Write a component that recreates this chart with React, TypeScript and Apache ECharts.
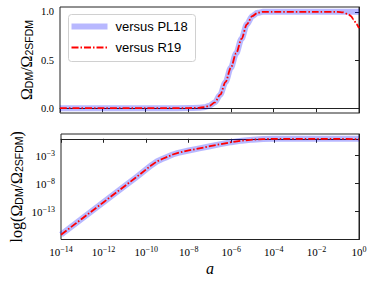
import React, { useEffect, useRef } from "react";
import * as echarts from "echarts";

// log10(a) sampling for the upper panel
const topLogA = [-14, -12, -10, -9, -8, -7.5, -7.25, -7, -6.75, -6.5, -6.25, -6, -5.75, -5.5, -5.25, -5, -4.75, -4.5, -4, -2, -1, -0.75, -0.5, -0.375, -0.25, -0.125, 0];
const topPL18 = [0, 0, 0, 0, 0.001, 0.004, 0.01, 0.025, 0.06, 0.14, 0.27, 0.42, 0.57, 0.72, 0.87, 0.955, 0.99, 1, 1, 1, 1, 1, 1, 1, 1, 1, 1];
const topR19 = [0, 0, 0, 0, 0.001, 0.004, 0.01, 0.025, 0.06, 0.14, 0.27, 0.42, 0.57, 0.72, 0.87, 0.955, 0.99, 1, 1, 1, 1, 0.995, 0.975, 0.955, 0.92, 0.875, 0.83];

// log10(a) sampling for the lower panel, values are log10(ratio)
const botLogA = [-14, -13, -12, -11, -10.5, -10, -9.75, -9.5, -9.25, -9, -8.75, -8.5, -8, -7.5, -7, -6.5, -6, -5.5, -5, -4.5, -4, -2, -1, 0];
const botPL18 = [-17.1, -14.2, -11.3, -8.4, -6.95, -5.45, -4.7, -4.05, -3.6, -3.22, -2.8, -2.5, -2.08, -1.7, -1.32, -0.95, -0.6, -0.33, -0.15, -0.05, -0.01, 0, 0, 0];
const botR19 = [-17.1, -14.2, -11.3, -8.4, -6.95, -5.45, -4.7, -4.05, -3.6, -3.22, -2.8, -2.5, -2.08, -1.7, -1.32, -0.95, -0.6, -0.33, -0.15, -0.05, -0.01, 0, 0, -0.08];

const xTicks = [-14, -12, -10, -8, -6, -4, -2, 0];
const topYTicks = [0, 0.5, 1.0];
const botYTicks = [-13, -8, -3];
const legendNames = ["versus PL18", "versus R19"];

const BLUE = "rgba(0,0,255,0.28)";
const RED = "#ff0000";
const DASH = [7, 2, 1.5, 2];
const SERIF = "'Liberation Serif', 'DejaVu Serif', serif";
const SANS = "'Liberation Sans', 'DejaVu Sans', sans-serif";

const pairs = (xs: number[], ys: number[]) => xs.map((x, i) => [x, ys[i]]);
const fmtExp = (v: number) => {
  const n = Math.round(v);
  const s = n < 0 ? "\u2212" + Math.abs(n) : String(n);
  return `{b|10}{s|${s}}`;
};

const powRich = {
  b: { fontFamily: SERIF, fontSize: 11, lineHeight: 12, verticalAlign: "bottom", color: "#000" },
  s: { fontFamily: SERIF, fontSize: 8, lineHeight: 8, verticalAlign: "top", color: "#000" },
};

export default function App() {
  const ref = useRef<HTMLDivElement>(null);
  useEffect(() => {
    if (!ref.current) return;
    const chart = echarts.init(ref.current, null, { renderer: "svg" });
    const axisLine = { show: true, lineStyle: { color: "#222", width: 1 } };
    const tick = { show: true, inside: false, length: 4, lineStyle: { color: "#222", width: 1 } };
    const nameRich = {
      o: { fontFamily: SERIF, fontSize: 16, lineHeight: 20, verticalAlign: "bottom", color: "#000" },
      s: { fontFamily: SANS, fontSize: 10.5, lineHeight: 13, verticalAlign: "bottom", color: "#000" },
    };
    chart.setOption({
      animation: false,
      grid: [
        { left: 60, width: 299, top: 7, height: 106, show: true, borderColor: "#222", borderWidth: 1, backgroundColor: "transparent" },
        { left: 60, width: 299, top: 134, height: 105.5, show: true, borderColor: "#222", borderWidth: 1, backgroundColor: "transparent" },
      ],
      xAxis: [
        {
          type: "value", gridIndex: 0, min: -14, max: 0, interval: 2,
          axisLine, axisTick: tick, axisLabel: { show: false }, splitLine: { show: false },
        },
        {
          type: "value", gridIndex: 1, min: -14, max: 0, interval: 2,
          axisLine, axisTick: tick, splitLine: { show: false },
          axisLabel: { show: true, margin: 6, formatter: (v: number) => fmtExp(v), rich: powRich },
          name: "a", nameLocation: "middle", nameGap: 21, nameMoveOverlap: false,
          nameTextStyle: { fontFamily: SERIF, fontStyle: "italic", fontSize: 16, color: "#000" },
        },
      ],
      yAxis: [
        {
          type: "value", gridIndex: 0, min: -0.05, max: 1.05,
          axisLine, splitLine: { show: false },
          axisTick: { ...tick, customValues: topYTicks },
          axisLabel: {
            show: true, margin: 6, customValues: topYTicks,
            formatter: (v: number) => v.toFixed(1),
            fontFamily: SERIF, fontSize: 10.5, color: "#000",
          },
          name: "{o|Ω}{s|DM}{o|/Ω}{s|2SFDM}", nameLocation: "middle", nameGap: 26, nameRotate: 90, nameMoveOverlap: false,
          nameTextStyle: { rich: nameRich },
        },
        {
          type: "value", gridIndex: 1, min: -17.95, max: 0.855,
          axisLine, splitLine: { show: false },
          axisTick: { ...tick, customValues: botYTicks },
          axisLabel: {
            show: true, margin: 6, customValues: botYTicks,
            formatter: (v: number) => fmtExp(v), rich: powRich,
          },
          name: "{o|log(Ω}{s|DM}{o|/Ω}{s|2SFDM}{o|)}", nameLocation: "middle", nameGap: 37, nameRotate: 90, nameMoveOverlap: false,
          nameTextStyle: { rich: nameRich },
        },
      ],
      series: [
        {
          name: legendNames[0], type: "line", xAxisIndex: 0, yAxisIndex: 0, data: pairs(topLogA, topPL18),
          showSymbol: false, smooth: 0.3, smoothMonotone: "x", lineStyle: { color: BLUE, width: 6 }, z: 2,
        },
        {
          name: legendNames[1], type: "line", xAxisIndex: 0, yAxisIndex: 0, data: pairs(topLogA, topR19),
          showSymbol: false, smooth: 0.3, smoothMonotone: "x", lineStyle: { color: RED, width: 1.8, type: DASH }, z: 3,
        },
        {
          name: legendNames[0], type: "line", xAxisIndex: 1, yAxisIndex: 1, data: pairs(botLogA, botPL18),
          showSymbol: false, smooth: false, lineStyle: { color: BLUE, width: 6, join: "round" }, z: 2,
        },
        {
          name: legendNames[1], type: "line", xAxisIndex: 1, yAxisIndex: 1, data: pairs(botLogA, botR19),
          showSymbol: false, smooth: false, lineStyle: { color: RED, width: 1.8, type: DASH }, z: 3,
        },
      ],
      graphic: [
        {
          type: "group", left: 68, top: 14, z: 10,
          children: [
            { type: "rect", shape: { x: 0, y: 0, width: 127, height: 47, r: 3 }, style: { fill: "rgba(255,255,255,0.8)", stroke: "#d0d0d0", lineWidth: 1 } },
            { type: "line", shape: { x1: 3, y1: 12, x2: 39, y2: 12 }, style: { stroke: BLUE, lineWidth: 6 } },
            { type: "line", shape: { x1: 3, y1: 33, x2: 39, y2: 33 }, style: { stroke: RED, lineWidth: 1.8, lineDash: DASH } },
            { type: "text", x: 47, y: 12, style: { text: legendNames[0], fontFamily: SANS, fontSize: 13, fill: "#000", verticalAlign: "middle", align: "left" } },
            { type: "text", x: 47, y: 33, style: { text: legendNames[1], fontFamily: SANS, fontSize: 13, fill: "#000", verticalAlign: "middle", align: "left" } },
          ],
        },
      ],
    });
    return () => chart.dispose();
  }, []);
  return <div ref={ref} style={{ width: 374, height: 283, position: "absolute", left: 0, top: 0 }} />;
}
